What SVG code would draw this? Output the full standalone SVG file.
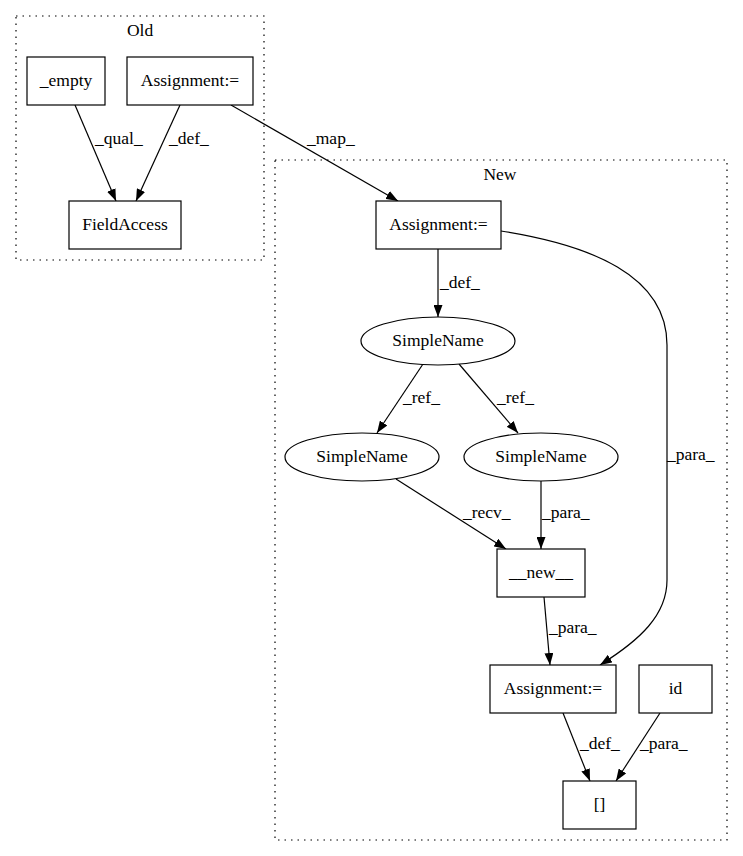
<svg xmlns="http://www.w3.org/2000/svg" width="743" height="856" viewBox="0 0 743 856">
<style>
text{font-family:"Liberation Serif","Times New Roman",serif;font-size:17.5px;fill:#000}
.n{fill:#fff;stroke:#000;stroke-width:1.2}
.c{fill:none;stroke:#000;stroke-width:1.2;stroke-dasharray:1.5,5}
.e{fill:none;stroke:#000;stroke-width:1.2;marker-end:url(#ah)}
.m{text-anchor:middle}
</style>
<defs>
<marker id="ah" markerUnits="userSpaceOnUse" markerWidth="12" markerHeight="9" refX="12" refY="4.5" orient="auto">
<path d="M0,0 L12,4.5 L0,9 z" fill="#000"/>
</marker>
</defs>
<rect width="743" height="856" fill="#fff"/>
<g id="cluster_old">
<rect class="c" x="16" y="16" width="248" height="244"/>
<text class="m" x="140" y="36">Old</text>
</g>
<g id="cluster_new">
<rect class="c" x="275" y="160" width="452" height="680"/>
<text class="m" x="500" y="180">New</text>
</g>
<g id="connectors">
<path class="e" d="M75,105 L116,201"/>
<text x="95" y="144">_qual_</text>
<path class="e" d="M180,105 L136,201"/>
<text x="169" y="144">_def_</text>
<path class="e" d="M231,105 L398,201"/>
<text x="307" y="144">_map_</text>
<path class="e" d="M438,249 L438,317"/>
<text x="440" y="288">_def_</text>
<path class="e" d="M501,231 C590,245 667,275 667,345 L667,580 C667,615 640,640 600,665"/>
<text x="667" y="460">_para_</text>
<path class="e" d="M423,364 L377,433"/>
<text x="403" y="403">_ref_</text>
<path class="e" d="M459,364 L518,433"/>
<text x="497" y="403">_ref_</text>
<path class="e" d="M396,479 L506,549"/>
<text x="463" y="518">_recv_</text>
<path class="e" d="M541,481 L541,549"/>
<text x="542" y="518">_para_</text>
<path class="e" d="M544,597 L550,665"/>
<text x="549" y="633">_para_</text>
<path class="e" d="M563,713 L590,781"/>
<text x="580" y="749">_def_</text>
<path class="e" d="M660,713 L616,781"/>
<text x="640" y="749">_para_</text>
</g>
<g id="empty">
<rect class="n" x="27" y="57" width="78" height="48"/>
<text class="m" x="66" y="86">_empty</text>
</g>
<g id="assign_old">
<rect class="n" x="127" y="57" width="126" height="48"/>
<text class="m" x="190" y="86">Assignment:=</text>
</g>
<g id="fieldaccess">
<rect class="n" x="69" y="201" width="112" height="48"/>
<text class="m" x="125" y="230">FieldAccess</text>
</g>
<g id="assign_new1">
<rect class="n" x="376" y="201" width="125" height="48"/>
<text class="m" x="438.5" y="230">Assignment:=</text>
</g>
<g id="simplename_top">
<ellipse class="n" cx="438" cy="341" rx="77" ry="24"/>
<text class="m" x="438" y="346">SimpleName</text>
</g>
<g id="simplename_left">
<ellipse class="n" cx="362" cy="457" rx="77" ry="24"/>
<text class="m" x="362" y="462">SimpleName</text>
</g>
<g id="simplename_right">
<ellipse class="n" cx="541" cy="457" rx="77" ry="24"/>
<text class="m" x="541" y="462">SimpleName</text>
</g>
<g id="new">
<rect class="n" x="497" y="549" width="88" height="48"/>
<text class="m" x="541" y="578">__new__</text>
</g>
<g id="assign_new2">
<rect class="n" x="490" y="665" width="126" height="48"/>
<text class="m" x="553" y="694">Assignment:=</text>
</g>
<g id="id">
<rect class="n" x="639" y="665" width="73" height="48"/>
<text class="m" x="675.5" y="694">id</text>
</g>
<g id="index">
<rect class="n" x="563" y="781" width="73" height="48"/>
<text class="m" x="599.5" y="810">[]</text>
</g>
</svg>
